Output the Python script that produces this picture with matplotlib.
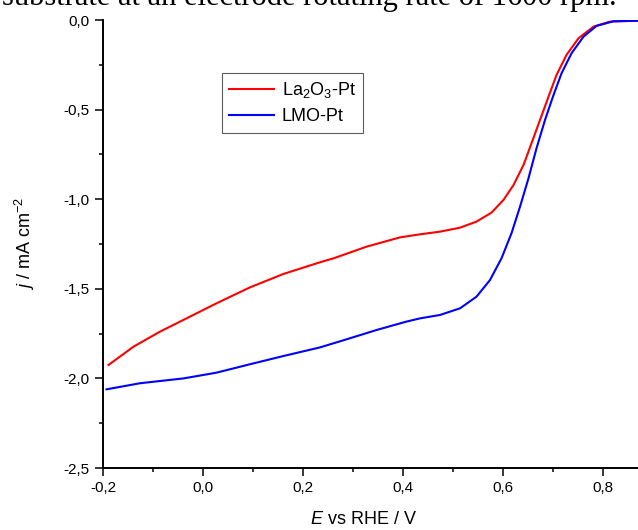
import numpy as np
import matplotlib
matplotlib.use("Agg")
from matplotlib import pyplot as plt
from matplotlib.ticker import MultipleLocator, FuncFormatter

plt.rcParams["font.family"] = ["Liberation Sans", "DejaVu Sans"]
plt.rcParams["mathtext.fontset"] = "custom"
plt.rcParams["mathtext.rm"] = "Liberation Sans"
plt.rcParams["mathtext.it"] = "Liberation Sans:italic"

e_la2o3 = [-0.189, -0.139, -0.086, -0.033, 0.027, 0.094, 0.161, 0.234, 0.261, 0.327,
           0.394, 0.434, 0.474, 0.514, 0.547, 0.577, 0.601, 0.621, 0.641, 0.657,
           0.674, 0.691, 0.707, 0.727, 0.751, 0.781, 0.814, 0.87]
j_la2o3 = [-1.925, -1.823, -1.739, -1.665, -1.581, -1.492, -1.417, -1.352, -1.330, -1.265,
           -1.213, -1.196, -1.181, -1.159, -1.125, -1.075, -1.004, -0.921, -0.809, -0.688,
           -0.558, -0.428, -0.307, -0.195, -0.102, -0.037, -0.009, -0.004]

e_lmo = [-0.193, -0.126, -0.039, 0.027, 0.094, 0.161, 0.234, 0.287, 0.347, 0.407,
         0.434, 0.474, 0.514, 0.547, 0.574, 0.597, 0.617, 0.634, 0.651, 0.667,
         0.684, 0.701, 0.717, 0.737, 0.761, 0.787, 0.821, 0.87]
j_lmo = [-2.061, -2.027, -2.000, -1.968, -1.921, -1.875, -1.827, -1.782, -1.730, -1.683,
         -1.665, -1.646, -1.609, -1.544, -1.451, -1.330, -1.190, -1.042, -0.883, -0.716,
         -0.558, -0.419, -0.298, -0.186, -0.093, -0.033, -0.007, -0.004]

labels = ["La$_2$O$_3$-Pt", "LMO-Pt"]
colors = ["#ff0000", "#0000ff"]

fig = plt.figure(figsize=(6.38, 5.30), dpi=100)
ax = fig.add_axes([103 / 638, 1 - 468 / 530, 1 - 103 / 638, (468 - 20) / 530])

ax.plot(e_la2o3, j_la2o3, c=colors[0], lw=1.5, label=labels[0])
ax.plot(e_lmo, j_lmo, c=colors[1], lw=1.5, label=labels[1])

ax.set_xlim(-0.2, 0.87)
ax.set_ylim(-2.5, 0.0)

ax.xaxis.set_major_locator(MultipleLocator(0.2))
ax.xaxis.set_minor_locator(MultipleLocator(0.1))
ax.yaxis.set_major_locator(MultipleLocator(0.5))
ax.yaxis.set_minor_locator(MultipleLocator(0.25))
comma = FuncFormatter(lambda v, pos: f"{v:.1f}".replace(".", ","))
ax.xaxis.set_major_formatter(comma)
ax.yaxis.set_major_formatter(comma)

for side in ["top", "right"]:
    ax.spines[side].set_visible(False)
for side in ["left", "bottom"]:
    ax.spines[side].set_linewidth(1.4)
ax.tick_params(which="major", direction="out", length=6, width=1.1, labelsize=11)
ax.tick_params(which="minor", direction="out", length=3, width=1.1)

ax.set_xlabel("$E$ vs RHE / V", fontsize=13)
ax.set_ylabel("$j$ / mA cm$^{-2}$", fontsize=13)
ax.xaxis.set_label_coords((363 - 103) / 535, -0.095)
ax.yaxis.set_label_coords((37 - 103) / 535, 0.5)

leg = fig.legend(loc="upper left", bbox_to_anchor=(222 / 638, 1 - 73 / 530),
                 fontsize=13, frameon=True, fancybox=False, handlelength=2.5,
                 borderpad=0.4, labelspacing=0.45, handletextpad=0.4, borderaxespad=0)
leg.get_frame().set_edgecolor("#333333")
leg.get_frame().set_linewidth(0.8)

fig.text(617 / 638, 1 - 5 / 530, "substrate at an electrode rotating rate of 1600 rpm.",
         family="Liberation Serif", fontsize=22, ha="right", va="baseline")

fig.savefig("out.png", dpi=100)
